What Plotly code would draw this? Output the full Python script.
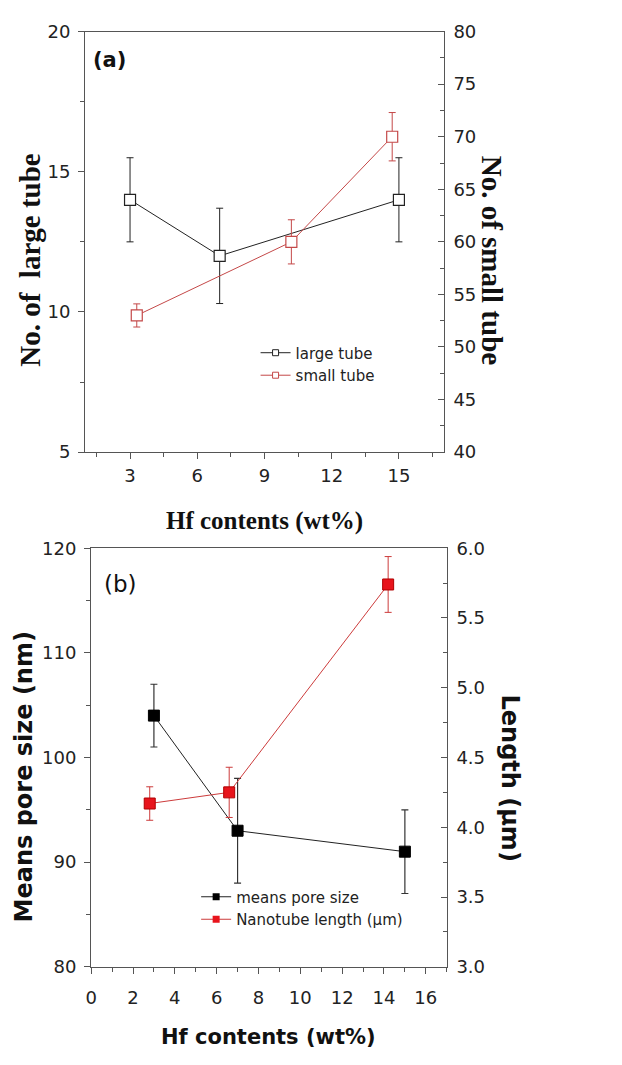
import plotly.graph_objects as go

W, H = 622, 1065

# ---------------- data: panel (a) ----------------
hf_large = [3, 7, 15]
large_tube = [14, 12, 14]
large_err = [1.5, 1.7, 1.5]

hf_small = [3.3, 10.2, 14.7]
small_tube = [53, 60, 70]
small_err = [1.1, 2.1, 2.3]

# ---------------- data: panel (b) ----------------
hf_pore = [3, 7, 15]
pore_size = [104, 93, 91]
pore_err = [3, 5, 4]

hf_len = [2.8, 6.6, 14.2]
nano_len = [4.17, 4.25, 5.74]
len_err = [0.12, 0.18, 0.2]


def px(x):
    return x / W


def py(y):
    return 1 - y / H


BLACK = "#222222"
RED_A = "#c44848"
RED_LINE = "#cc3b3b"
RED_FILL = "#e8141c"
AXC = "#555555"
TICKFONT = dict(family="DejaVu Sans", size=18, color="#222222")

fig = go.Figure()

# ---- panel (a) traces ----
fig.add_trace(go.Scatter(
    x=hf_large, y=large_tube, mode="lines+markers", showlegend=False,
    line=dict(color=BLACK, width=1),
    marker=dict(symbol="square", size=11, color="white", line=dict(color=BLACK, width=1.2)),
    error_y=dict(type="data", array=large_err, color=BLACK, thickness=1, width=3.5),
    xaxis="x", yaxis="y"))
fig.add_trace(go.Scatter(
    x=hf_small, y=small_tube, mode="lines+markers", showlegend=False,
    line=dict(color=RED_A, width=1),
    marker=dict(symbol="square", size=11, color="white", line=dict(color=RED_A, width=1.2)),
    error_y=dict(type="data", array=small_err, color=RED_A, thickness=1, width=3.5),
    xaxis="x", yaxis="y2"))

# legend entries (a)
fig.add_trace(go.Scatter(
    x=[None], y=[None], mode="lines+markers", name="large tube", legend="legend",
    line=dict(color=BLACK, width=1),
    marker=dict(symbol="square", size=6, color="white", line=dict(color=BLACK, width=1)),
    xaxis="x", yaxis="y"))
fig.add_trace(go.Scatter(
    x=[None], y=[None], mode="lines+markers", name="small tube", legend="legend",
    line=dict(color=RED_A, width=1),
    marker=dict(symbol="square", size=6, color="white", line=dict(color=RED_A, width=1)),
    xaxis="x", yaxis="y"))

# ---- panel (b) traces ----
fig.add_trace(go.Scatter(
    x=hf_pore, y=pore_size, mode="lines+markers", showlegend=False,
    line=dict(color=BLACK, width=1),
    marker=dict(symbol="square", size=11, color="black", line=dict(color="black", width=1)),
    error_y=dict(type="data", array=pore_err, color="#333333", thickness=1.2, width=3.5),
    xaxis="x2", yaxis="y3"))
fig.add_trace(go.Scatter(
    x=hf_len, y=nano_len, mode="lines+markers", showlegend=False,
    line=dict(color=RED_LINE, width=1),
    marker=dict(symbol="square", size=11, color=RED_FILL, line=dict(color="#b00000", width=1)),
    error_y=dict(type="data", array=len_err, color=RED_LINE, thickness=1, width=3.5),
    xaxis="x2", yaxis="y4"))

# legend entries (b)
fig.add_trace(go.Scatter(
    x=[None], y=[None], mode="lines+markers", name="means pore size", legend="legend2",
    line=dict(color=BLACK, width=1),
    marker=dict(symbol="square", size=7, color="black"),
    xaxis="x2", yaxis="y3"))
fig.add_trace(go.Scatter(
    x=[None], y=[None], mode="lines+markers", name="Nanotube length (μm)", legend="legend2",
    line=dict(color=RED_LINE, width=1),
    marker=dict(symbol="square", size=7, color=RED_FILL),
    xaxis="x2", yaxis="y3"))

common_axis = dict(showline=True, linecolor=AXC, linewidth=1.2, showgrid=False,
                   zeroline=False, tickfont=TICKFONT, tickcolor=AXC, ticklen=6,
                   tickwidth=1)

fig.update_layout(
    width=W, height=H,
    margin=dict(l=0, r=0, t=0, b=0),
    paper_bgcolor="white", plot_bgcolor="white",
    xaxis=dict(domain=[px(80), px(442)], anchor="y", range=[1, 17],
               tick0=0, dtick=3, ticks="outside", mirror=True, ticklabelstandoff=1,
               minor=dict(dtick=1.5, tick0=0, ticks="outside", ticklen=4, tickcolor=AXC),
               **common_axis),
    yaxis=dict(domain=[py(450), py(21)], anchor="x", range=[5, 20],
               tick0=0, dtick=5, ticks="outside", ticklabelstandoff=4,
               minor=dict(dtick=2.5, tick0=0, ticks="outside", ticklen=4, tickcolor=AXC),
               **common_axis),
    yaxis2=dict(domain=[py(450), py(21)], anchor="x", overlaying="y", side="right",
                range=[40, 80], tick0=0, dtick=5, ticks="inside", ticklabelstandoff=5,
                minor=dict(dtick=2.5, tick0=0, ticks="inside", ticklen=4, tickcolor=AXC),
                **common_axis),
    xaxis2=dict(domain=[px(86), px(445)], anchor="y3", range=[0, 17],
                tick0=0, dtick=2, ticks="outside", mirror=True, ticklabelstandoff=9,
                minor=dict(dtick=1, tick0=0, ticks="outside", ticklen=4, tickcolor=AXC),
                **common_axis),
    yaxis3=dict(domain=[py(975), py(548)], anchor="x2", range=[80, 120],
                tick0=0, dtick=10, ticks="outside", ticklabelstandoff=4,
                minor=dict(dtick=5, tick0=0, ticks="outside", ticklen=4, tickcolor=AXC),
                **common_axis),
    yaxis4=dict(domain=[py(975), py(548)], anchor="x2", overlaying="y3", side="right",
                range=[3, 6], tick0=0, dtick=0.5, tickformat=".1f", ticks="inside",
                ticklabelstandoff=5,
                minor=dict(dtick=0.25, tick0=0, ticks="inside", ticklen=4, tickcolor=AXC),
                **common_axis),
    legend=dict(x=px(252), y=py(332), xanchor="left", yanchor="top",
                bgcolor="rgba(0,0,0,0)", borderwidth=0,
                font=dict(family="DejaVu Sans", size=15, color="#222222")),
    legend2=dict(x=px(192), y=py(887), xanchor="left", yanchor="top",
                 bgcolor="rgba(0,0,0,0)", borderwidth=0,
                 font=dict(family="DejaVu Sans", size=15, color="#222222")),
)

annotations = [
    # panel (a)
    dict(text="<b>(a)</b>", x=px(86), y=py(50), xanchor="left", yanchor="middle",
         font=dict(family="DejaVu Sans", size=21, color="#111111")),
    dict(text="<b>No. of  large tube</b>", x=px(24), y=py(254), textangle=-90,
         xanchor="center", yanchor="middle",
         font=dict(family="Liberation Serif", size=29, color="#111111")),
    dict(text="<b>No. of small tube</b>", x=px(491), y=py(255), textangle=90,
         xanchor="center", yanchor="middle",
         font=dict(family="Liberation Serif", size=29, color="#111111")),
    dict(text="<b>Hf contents (wt%)</b>", x=px(261), y=py(520),
         xanchor="center", yanchor="middle",
         font=dict(family="Liberation Serif", size=25, color="#111111")),
    # panel (b)
    dict(text="(b)", x=px(97), y=py(585), xanchor="left", yanchor="middle",
         font=dict(family="DejaVu Sans", size=23, color="#111111")),
    dict(text="<b>Means pore size (nm)</b>", x=px(18), y=py(781), textangle=-90,
         xanchor="center", yanchor="middle",
         font=dict(family="DejaVu Sans", size=24, color="#111111")),
    dict(text="<b>Length (μm)</b>", x=px(509), y=py(782), textangle=90,
         xanchor="center", yanchor="middle",
         font=dict(family="DejaVu Sans", size=24, color="#111111")),
    dict(text="<b>Hf contents (wt%)</b>", x=px(265), y=py(1047),
         xanchor="center", yanchor="middle",
         font=dict(family="DejaVu Sans", size=21, color="#111111")),
]
for a in annotations:
    a.update(xref="paper", yref="paper", showarrow=False)
fig.update_layout(annotations=annotations)

fig.write_html("out.html")
